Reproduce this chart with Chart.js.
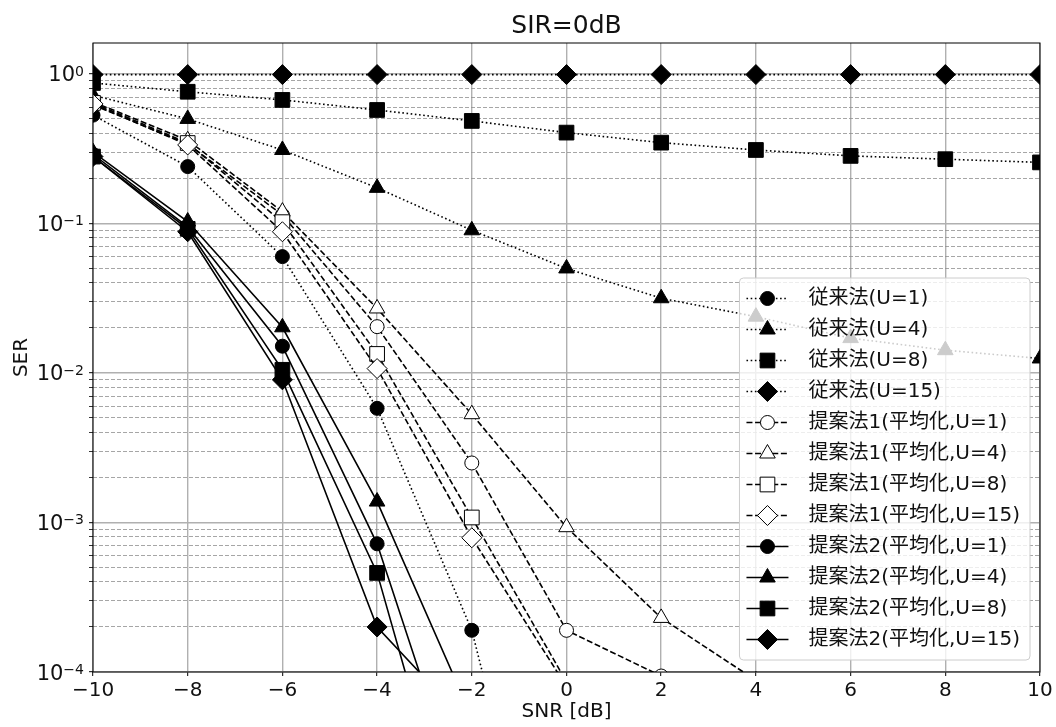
<!DOCTYPE html>
<html>
<head>
<meta charset="utf-8">
<script src="https://cdn.jsdelivr.net/npm/chart.js@4.4.1/dist/chart.umd.min.js"></script>
<style>
  html, body { margin: 0; padding: 0; background: #fff; }
</style>
</head>
<body>
<canvas id="serChart" width="1056" height="727"></canvas>
<script>
const FONT = '"DejaVu Sans", "Noto Sans CJK JP", sans-serif';

// SNR sweep [dB]
const snrDb = [-10, -8, -6, -4, -2, 0, 2, 4, 6, 8, 10];

// 従来法
const convU1  = [0.53, 0.24, 0.060, 0.0058, 1.9e-4, 5.9e-7, null, null, null, null, null];
const convU4  = [0.72, 0.50, 0.31, 0.173, 0.090, 0.050, 0.0316, 0.0238, 0.0171, 0.0142, 0.0125];
const convU8  = [0.87, 0.76, 0.67, 0.574, 0.485, 0.405, 0.347, 0.310, 0.283, 0.269, 0.256];
const convU15 = [0.99, 0.99, 0.99, 0.99, 0.99, 0.99, 0.99, 0.99, 0.99, 0.99, 0.99];

// 提案法1 (平均化)
const prop1U1  = [0.62, 0.34, 0.114, 0.0204, 0.0025, 1.9e-4, 9.4e-5, null, null, null, null];
const prop1U4  = [0.65, 0.36, 0.12, 0.027, 0.0053, 9.3e-4, 2.3e-4, 8.8e-5, null, null, null];
const prop1U8  = [0.64, 0.345, 0.102, 0.0134, 0.00108, 8.6e-5, null, null, null, null, null];
const prop1U15 = [0.63, 0.335, 0.088, 0.0107, 7.9e-4, 8.0e-5, null, null, null, null, null];

// 提案法2 (平均化)
const prop2U1  = [0.29, 0.095, 0.0151, 7.2e-4, 8.6e-6, null, null, null, null, null, null];
const prop2U4  = [0.30, 0.103, 0.0202, 0.00138, 5.0e-5, null, null, null, null, null, null];
const prop2U8  = [0.28, 0.092, 0.0105, 4.6e-4, 2.7e-6, null, null, null, null, null, null];
const prop2U15 = [0.28, 0.088, 0.0090, 2.0e-4, 4.2e-5, null, null, null, null, null, null];

// y axis: decades get a label, 2..9 in between get a dashed minor line
const yDecades = [1e-4, 1e-3, 1e-2, 1e-1, 1];
const yMinorSteps = [2, 3, 4, 5, 6, 7, 8, 9];

const yGridValues = [];
yDecades.forEach((d, i) => {
  yGridValues.push(d);
  if (i < yDecades.length - 1) yMinorSteps.forEach(m => yGridValues.push(+(m * d).toPrecision(3)));
});

const isDecade = v => Math.abs(Math.log10(v) - Math.round(Math.log10(v))) < 1e-6;

const DOTTED = [1.6, 2.6];
const DASHED = [6, 2.6];
const SOLID = [];

const series = [
  { label: '従来法(U=1)',  values: convU1,  dash: DOTTED, marker: 'circle',   fill: '#000' },
  { label: '従来法(U=4)',  values: convU4,  dash: DOTTED, marker: 'triangle', fill: '#000' },
  { label: '従来法(U=8)',  values: convU8,  dash: DOTTED, marker: 'rect',     fill: '#000' },
  { label: '従来法(U=15)', values: convU15, dash: DOTTED, marker: 'rectRot',  fill: '#000' },
  { label: '提案法1(平均化,U=1)',  values: prop1U1,  dash: DASHED, marker: 'circle',   fill: '#fff' },
  { label: '提案法1(平均化,U=4)',  values: prop1U4,  dash: DASHED, marker: 'triangle', fill: '#fff' },
  { label: '提案法1(平均化,U=8)',  values: prop1U8,  dash: DASHED, marker: 'rect',     fill: '#fff' },
  { label: '提案法1(平均化,U=15)', values: prop1U15, dash: DASHED, marker: 'rectRot',  fill: '#fff' },
  { label: '提案法2(平均化,U=1)',  values: prop2U1,  dash: SOLID, marker: 'circle',   fill: '#000' },
  { label: '提案法2(平均化,U=4)',  values: prop2U4,  dash: SOLID, marker: 'triangle', fill: '#000' },
  { label: '提案法2(平均化,U=8)',  values: prop2U8,  dash: SOLID, marker: 'rect',     fill: '#000' },
  { label: '提案法2(平均化,U=15)', values: prop2U15, dash: SOLID, marker: 'rectRot',  fill: '#000' }
];

const markerRadius = { circle: 7, triangle: 9, rect: 10.4, rectRot: 10 };

const datasets = series.map((s, i) => ({
  label: s.label,
  data: snrDb.map((x, j) => ({ x: x, y: s.values[j] })),
  borderColor: '#000',
  borderWidth: 1.6,
  borderDash: s.dash,
  pointStyle: s.marker,
  pointRadius: markerRadius[s.marker],
  pointHoverRadius: markerRadius[s.marker],
  pointBackgroundColor: s.fill,
  pointBorderColor: '#000',
  pointBorderWidth: 1,
  fill: false,
  tension: 0,
  spanGaps: false,
  clip: 0,
  order: series.length - i   // later series on top
}));

// axes frame, in-plot legend and 10^n tick labels
const plotDecor = {
  id: 'plotDecor',
  afterDatasetsDraw(chart) {
    const { ctx, chartArea: a } = chart;
    ctx.save();
    ctx.setLineDash([]);
    ctx.strokeStyle = '#000';
    ctx.lineWidth = 1;
    ctx.strokeRect(a.left, a.top, a.right - a.left, a.bottom - a.top);

    // legend box, lower right
    const rowH = 31, pad = 5, sampleLen = 42, inset = 7, textGap = 20;
    ctx.font = '20px ' + FONT;
    const textW = Math.max(...series.map(s => ctx.measureText(s.label).width));
    const boxW = inset + sampleLen + textGap + textW + 10;
    const boxH = series.length * rowH + 2 * pad;
    const bx = a.right - 10 - boxW;
    const by = a.bottom - 12 - boxH;
    ctx.beginPath();
    ctx.roundRect(bx, by, boxW, boxH, 4);
    ctx.fillStyle = 'rgba(255,255,255,0.8)';
    ctx.fill();
    ctx.strokeStyle = '#cccccc';
    ctx.stroke();

    chart.data.datasets.forEach((ds, i) => {
      const cy = by + pad + rowH * (i + 0.5);
      const x0 = bx + inset;
      ctx.strokeStyle = '#000';
      ctx.lineWidth = ds.borderWidth;
      ctx.setLineDash(ds.borderDash);
      ctx.beginPath();
      ctx.moveTo(x0, cy);
      ctx.lineTo(x0 + sampleLen, cy);
      ctx.stroke();
      ctx.setLineDash([]);
      ctx.lineWidth = ds.pointBorderWidth;
      ctx.fillStyle = ds.pointBackgroundColor;
      Chart.helpers.drawPoint(ctx, {
        pointStyle: ds.pointStyle, radius: ds.pointRadius, rotation: 0, borderWidth: ds.pointBorderWidth
      }, x0 + sampleLen / 2, cy);
      ctx.fillStyle = '#111';
      ctx.textAlign = 'left';
      ctx.textBaseline = 'middle';
      ctx.fillText(ds.label, x0 + sampleLen + textGap, cy);
    });
    ctx.restore();
  },
  afterDraw(chart) {
    const { ctx, chartArea: a } = chart;
    const y = chart.scales.y;
    const right = a.left - 9;
    ctx.save();
    ctx.fillStyle = '#111';
    ctx.textAlign = 'right';
    ctx.textBaseline = 'alphabetic';
    yDecades.forEach(v => {
      const py = y.getPixelForValue(v);
      const e = Math.round(Math.log10(v));
      const expText = e < 0 ? '\u2212' + (-e) : String(e);
      ctx.font = '14px ' + FONT;
      const ew = ctx.measureText(expText).width;
      ctx.fillText(expText, right, py + 2);
      ctx.font = '21px ' + FONT;
      ctx.fillText('10', right - ew, py + 7.5);
    });
    ctx.restore();
  }
};

Chart.defaults.font.family = FONT;
Chart.defaults.color = '#111';

new Chart(document.getElementById('serChart'), {
  type: 'line',
  data: { datasets: datasets },
  options: {
    responsive: false,
    animation: false,
    layout: { padding: { left: 0, right: 16, top: 0, bottom: 0 } },
    plugins: {
      legend: { display: false },
      tooltip: { enabled: false },
      title: {
        display: true,
        text: 'SIR=0dB',
        fullSize: false,
        color: '#111',
        font: { size: 25, weight: 'normal' },
        padding: { top: 11, bottom: 2 }
      }
    },
    scales: {
      x: {
        type: 'linear',
        min: -10,
        max: 10,
        afterFit: s => { s.height = 55; },
        ticks: {
          stepSize: 2,
          maxRotation: 0,
          padding: 3,
          color: '#111',
          font: { size: 20 },
          callback: v => (v < 0 ? '\u2212' + Math.abs(v) : String(v))
        },
        grid: { color: '#b0b0b0', lineWidth: 1.4, tickColor: '#000', tickLength: 4, tickWidth: 1 },
        border: { display: false },
        title: { display: true, text: 'SNR [dB]', color: '#111', font: { size: 20 }, padding: { top: 0, bottom: 3.5 } }
      },
      y: {
        type: 'logarithmic',
        min: 1e-4,
        max: 1.61,
        afterBuildTicks: s => { s.ticks = yGridValues.map(v => ({ value: v, major: isDecade(v) })); },
        afterFit: s => { s.width = 93; },
        ticks: { autoSkip: false, padding: 0, callback: () => '' },
        grid: {
          color: c => (c.tick && !isDecade(c.tick.value) ? '#8f8f8f' : '#b0b0b0'),
          lineWidth: c => (c.tick && !isDecade(c.tick.value) ? 0.8 : 1.4),
          tickColor: '#000',
          tickLength: 4,
          tickWidth: c => (c.tick && !isDecade(c.tick.value) ? 0.8 : 1)
        },
        border: {
          display: false,
          dash: c => (c.tick && !isDecade(c.tick.value) ? [4, 2] : [])
        },
        title: { display: true, text: 'SER', color: '#111', font: { size: 20 }, padding: { top: 9.7, bottom: 0 } }
      }
    }
  },
  plugins: [plotDecor]
});
</script>
</body>
</html>
